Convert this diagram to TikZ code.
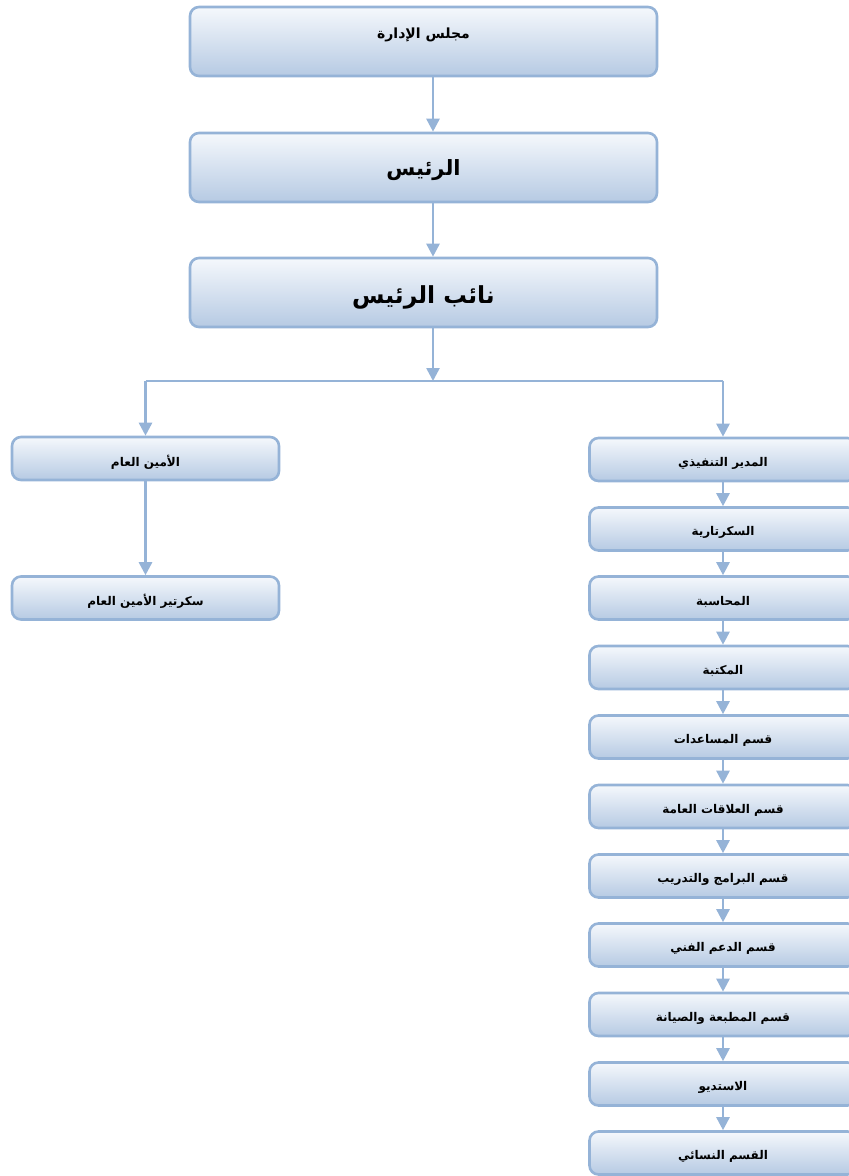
\documentclass[tikz,border=0pt]{standalone}
\usepackage{fontspec}
\newfontfamily\arabicfont[Script=Arabic]{DejaVu Sans}
\TeXXeTstate=1
\usetikzlibrary{arrows.meta}
\definecolor{bord}{HTML}{95B3D7}
\definecolor{topc}{HTML}{F5F8FC}
\definecolor{botc}{HTML}{B6CAE3}
\tikzset{
  box/.style={draw=bord, line width=2.6pt, rounded corners=9pt, top color=topc, bottom color=botc, inner sep=0pt, align=center},
  bigbox/.style={box, minimum width=467pt, minimum height=69pt},
  smallbox/.style={box, minimum width=267pt, minimum height=43pt, font=\arabicfont\bfseries\fontsize{12}{14}\selectfont},
  arr/.style={draw=bord, line width=2.6pt, -{Triangle[width=13pt,length=13pt]}},
}
\newcommand{\sh}[2]{\raisebox{#1}[\height][\depth]{#2}}
\begin{document}
\begin{tikzpicture}[x=1pt,y=-1pt]
\path[use as bounding box] (0,0) rectangle (849,1176);
\clip (0,0) rectangle (849,1176);
% top column
\node[bigbox, font=\arabicfont\bfseries\fontsize{14}{16}\selectfont] (b1) at (423.5,41.5) {\sh{7pt}{\beginR مجلس الإدارة\endR}};
\node[bigbox, font=\arabicfont\bfseries\fontsize{21}{24}\selectfont] (b2) at (423.5,167.5) {\sh{-2.5pt}{\beginR الرئيس\endR}};
\node[bigbox, font=\arabicfont\bfseries\fontsize{23.5}{26}\selectfont] (b3) at (423.5,292.5) {\sh{-5pt}{\beginR نائب الرئيس\endR}};
\coordinate (j) at (433,381);
\draw[arr] (b1.south -| j) -- (b2.north -| j);
\draw[arr] (b2.south -| j) -- (b3.north -| j);
\draw[arr] (b3.south -| j) -- (j);
% left column
\node[smallbox] (l1) at (145.5,458.5) {\sh{-3.5pt}{\beginR الأمين العام\endR}};
\node[smallbox] (l2) at (145.5,598) {\sh{-3.5pt}{\beginR سكرتير الأمين العام\endR}};
% right column
\node[smallbox] (r1) at (723,459.5) {\sh{-3.5pt}{\beginR المدير التنفيذي\endR}};
\node[smallbox] (r2) at (723,529) {\sh{-3.5pt}{\beginR السكرتارية\endR}};
\node[smallbox] (r3) at (723,598) {\sh{-3.5pt}{\beginR المحاسبة\endR}};
\node[smallbox] (r4) at (723,667.5) {\sh{-3.5pt}{\beginR المكتبة\endR}};
\node[smallbox] (r5) at (723,737) {\sh{-3.5pt}{\beginR قسم المساعدات\endR}};
\node[smallbox] (r6) at (723,806.5) {\sh{-3.5pt}{\beginR قسم العلاقات العامة\endR}};
\node[smallbox] (r7) at (723,876) {\sh{-3.5pt}{\beginR قسم البرامج والتدريب\endR}};
\node[smallbox] (r8) at (723,945) {\sh{-3.5pt}{\beginR قسم الدعم الفني\endR}};
\node[smallbox] (r9) at (723,1014.5) {\sh{-3.5pt}{\beginR قسم المطبعة والصيانة\endR}};
\node[smallbox] (r10) at (723,1084) {\sh{-3.5pt}{\beginR الاستديو\endR}};
\node[smallbox] (r11) at (723,1153) {\sh{-3.5pt}{\beginR القسم النسائي\endR}};
% branch connectors
\draw[draw=bord, line width=2.6pt] (l1.north |- j) -- (r1.north |- j);
\draw[arr] (l1.north |- j) -- (l1.north);
\draw[arr] (r1.north |- j) -- (r1.north);
\draw[arr] (l1) -- (l2);
\foreach \a/\b in {r1/r2,r2/r3,r3/r4,r4/r5,r5/r6,r6/r7,r7/r8,r8/r9,r9/r10,r10/r11}
  \draw[arr] (\a) -- (\b);
\end{tikzpicture}
\end{document}
